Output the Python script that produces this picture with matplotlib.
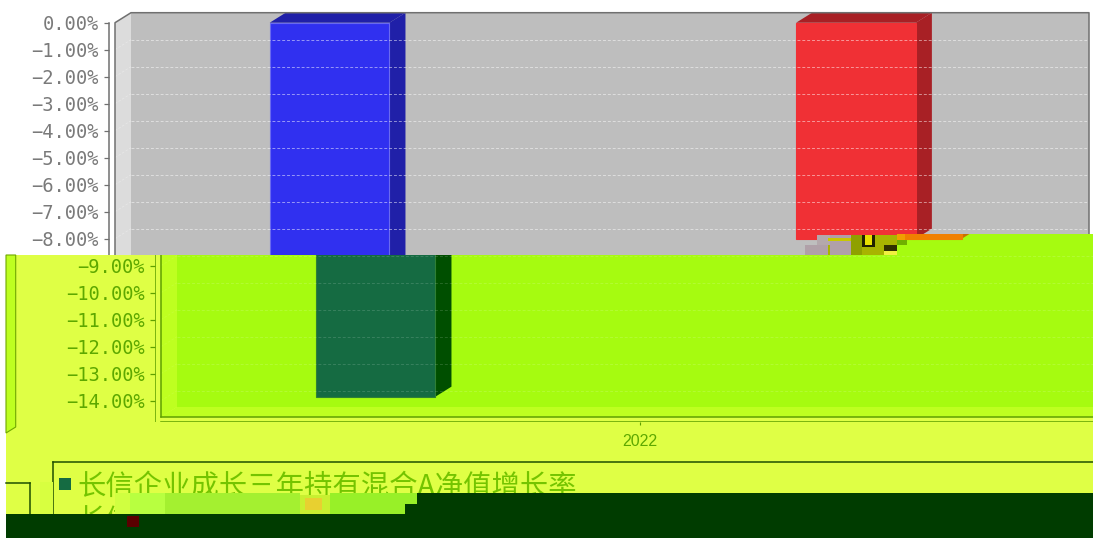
import matplotlib
matplotlib.use('Agg')
import matplotlib.pyplot as plt
from matplotlib.lines import Line2D
from matplotlib.patches import Polygon, Rectangle
from matplotlib.ticker import FuncFormatter
from matplotlib.transforms import Affine2D

# chart values
years = ['2022']
bar_values = [-13.85, -8.0]
bar_offsets = [-0.276, 0.2735]
top_ticks = [0, -1, -2, -3, -4, -5, -6, -7, -8]
bottom_ticks = [-9, -10, -11, -12, -13, -14]
grid_values = [-1, -2, -3, -4, -5, -6, -7, -8, -9, -10, -11, -12, -13, -14]
legend_first = '长信企业成长三年持有混合A净值增长率'
legend_second = '长信企业成长三年持有混合A业绩比较基准收益率'

W, H = 1093, 538
fig = plt.figure(figsize=(W / 100, H / 100), dpi=100, facecolor='white')

# image coordinates -> display, for the parts outside the axes
pix = Affine2D().scale(1, -1).translate(0, H)

low = -14.6
out_x = 6 / 958
out_y = 5 / 27
dx = 16 / 958
dy = 10 / 27


def box(x0, y0, x1, y1, color, z=1):
    fig.add_artist(Rectangle((x0, y0), x1 - x0, y1 - y0, transform=pix,
                             facecolor=color, edgecolor='none', zorder=z))


def make_axes(left, z):
    # axes edge is the axis line, the chart front sits just inside it
    ax = fig.add_axes([(left - 6) / W, (H - 421.9) / H, 964 / W, 399.2 / H], zorder=z)
    ax.set_xlim(-0.5 - out_x, 0.5)
    ax.set_ylim(low - out_y, 0)
    ax.patch.set_visible(False)
    return ax


def draw_layer(ax, yticks, wall, side, line, text, bars, grid_alpha, region=None):
    ax.fill([-0.5, -0.5 + dx, -0.5 + dx, -0.5], [0, dy, low + dy, low],
            color=side, lw=0, clip_on=False)
    ax.fill([-0.5, 0.5, 0.5 + dx, -0.5 + dx], [low, low, low + dy, low + dy],
            color=side, lw=0, clip_on=False)
    ax.fill([-0.5 + dx, 0.5 + dx, 0.5 + dx, -0.5 + dx], [low + dy, low + dy, dy, dy],
            color=wall, lw=0, clip_on=False)
    for v in grid_values:
        ax.plot([-0.5 + dx, 0.5 + dx], [v + dy, v + dy], color='white', lw=0.7,
                ls=(0, (3, 2)), alpha=grid_alpha, clip_on=False)
        ax.plot([-0.5, -0.5 + dx], [v, v + dy], color='white', lw=0.6,
                ls=(0, (3, 2)), alpha=grid_alpha * 0.6, clip_on=False)
    ax.plot([-0.5, -0.5, -0.5 + dx, 0.5 + dx, 0.5 + dx], [low, 0, dy, dy, low + dy],
            color=line, lw=1.1, clip_on=False)
    ax.plot([-0.5, 0.5], [low, low], color=line, lw=1.1, clip_on=False)

    for off, val, (face, dark, edge) in zip(bar_offsets, bar_values, bars):
        l = off - 0.0625
        r = off + 0.0625
        ax.fill([r, r + dx, r + dx, r], [0, dy, val + dy, val], color=dark, lw=0, clip_on=False)
        ax.fill([l, l + dx, r + dx, r], [0, dy, dy, 0], color=dark, lw=0, clip_on=False)
        ax.bar(off, val, width=0.125, color=face, edgecolor=edge, linewidth=0.8, clip_on=False)

    ax.set_yticks(yticks)
    ax.yaxis.set_major_formatter(FuncFormatter(lambda v, p: ('%.2f%%' % v).replace('-', '\u2212')))
    ax.set_xticks([0])
    ax.set_xticklabels(years, fontsize=11.5, family='Liberation Sans')
    ax.tick_params(axis='y', length=3.6, width=0.9, color=line, labelcolor=text, pad=3.6,
                   labelsize=13.5, labelfontfamily='DejaVu Sans Mono')
    ax.tick_params(axis='x', length=2.5, width=0.8, color=line, labelcolor=text, pad=6)
    for s in ['top', 'right']:
        ax.spines[s].set_visible(False)
    ax.spines['left'].set_bounds(low - out_y, 0)
    ax.spines['bottom'].set_bounds(-0.5, 0.5)
    for s in ['left', 'bottom']:
        ax.spines[s].set_color(line)
        ax.spines[s].set_linewidth(1.1)

    if region is not None:
        for a in ax.patches + ax.lines + list(ax.spines.values()):
            a.set_clip_path(region)
            a.set_clip_on(True)


# upper part of the picture, as it was
top_ax = make_axes(115, 2)
draw_layer(top_ax, top_ticks, '#BEBEBE', '#DCDCDC', '#707070', '#7A7A7A',
           [('#3030F0', '#2020A8', '#6A6AF0'), ('#F03035', '#A82025', '#F03035')], 0.5)
top_ax.set_xticks([])

# lower part: same chart moved to the right, other colours
lime = '#DFFF45'
lower_shape = [(6, 255), (897, 255), (897, 234), (W, 234), (W, H), (6, H)]
fig.add_artist(Polygon(lower_shape, closed=True, transform=pix, facecolor=lime,
                       edgecolor='none', zorder=3))
region = Polygon(lower_shape, closed=True, transform=pix)
low_ax = make_axes(161, 4)
draw_layer(low_ax, bottom_ticks, '#A6FB10', '#BEFF20', '#5FA000', '#5DA800',
           [('#156B42', '#004F00', '#2F7F35'), ('#F08000', '#C87000', '#F08000')],
           0.15, region=region)

# garbled strip under the red bar
for x0, y0, x1, y1, c in [
    (817, 235, 897, 255, '#A8B400'),
    (805, 245, 828, 255, '#B0A0A8'),
    (817, 235, 830, 245, '#B4A8AC'),
    (830, 235, 851, 255, '#B0A0A8'),
    (828, 238, 851, 241, '#C8C800'),
    (851, 235, 862, 255, '#8FA000'),
    (862, 235, 875, 247, '#202000'),
    (865, 235, 872, 245, '#E8E000'),
    (884, 245, 897, 251, '#303000'),
    (884, 251, 897, 255, '#F0F040'),
    (897, 234, 905, 240, '#F0A000'),
    (897, 240, 907, 245, '#70B000'),
]:
    box(x0, y0, x1, y1, c, z=5)

# bits left of the lower chart
fig.add_artist(Polygon([(6, 255), (15.7, 255), (15.7, 427), (6, 433)], closed=True,
                       transform=pix, facecolor='#BEFF20', edgecolor='#6FA800',
                       linewidth=0.8, zorder=5))

# legend frame and the stray frame beside it
frame = '#1E5000'
for xs, ys in [([53, 1093], [462, 462]), ([53, 53], [462, 514]),
               ([6, 29.5], [483, 483]), ([29.5, 29.5], [483, 514])]:
    fig.add_artist(Line2D(xs, ys, transform=pix, color=frame, lw=1.1, zorder=5))
box(40, 482, 52.5, 514, '#D8FF40', z=5)
box(59, 478, 71, 490, '#156B42', z=6)
fig.text(77.5 / W, 1 - 487 / H, legend_first, fontsize=20.4, color='#74C400', va='center',
         family=['Noto Sans CJK SC', 'DejaVu Sans'], zorder=6)
fig.text(77.5 / W, 1 - 521 / H, legend_second, fontsize=20.4, color='#74C400', va='center',
         family=['Noto Sans CJK SC', 'DejaVu Sans'], zorder=6)

# damaged lines at the foot of the picture
for x0, y0, x1, y1, c in [
    (115, 493, 130, 514, '#D0FF40'),
    (130, 493, 165, 514, '#B8FF40'),
    (165, 493, 300, 514, '#A4F030'),
    (300, 495, 330, 514, '#C8F030'),
    (305, 498, 322, 510, '#E8D030'),
    (330, 493, 417, 514, '#98F028'),
]:
    box(x0, y0, x1, y1, c, z=7)
dark = '#003C00'
box(417, 493, W, 514, dark, z=9)
box(405, 504, 417, 514, dark, z=9)
box(6, 514, W, H, dark, z=9)
box(127, 516, 139, 527, '#5A0000', z=10)

fig.savefig('out.png', dpi=100, facecolor='white')
